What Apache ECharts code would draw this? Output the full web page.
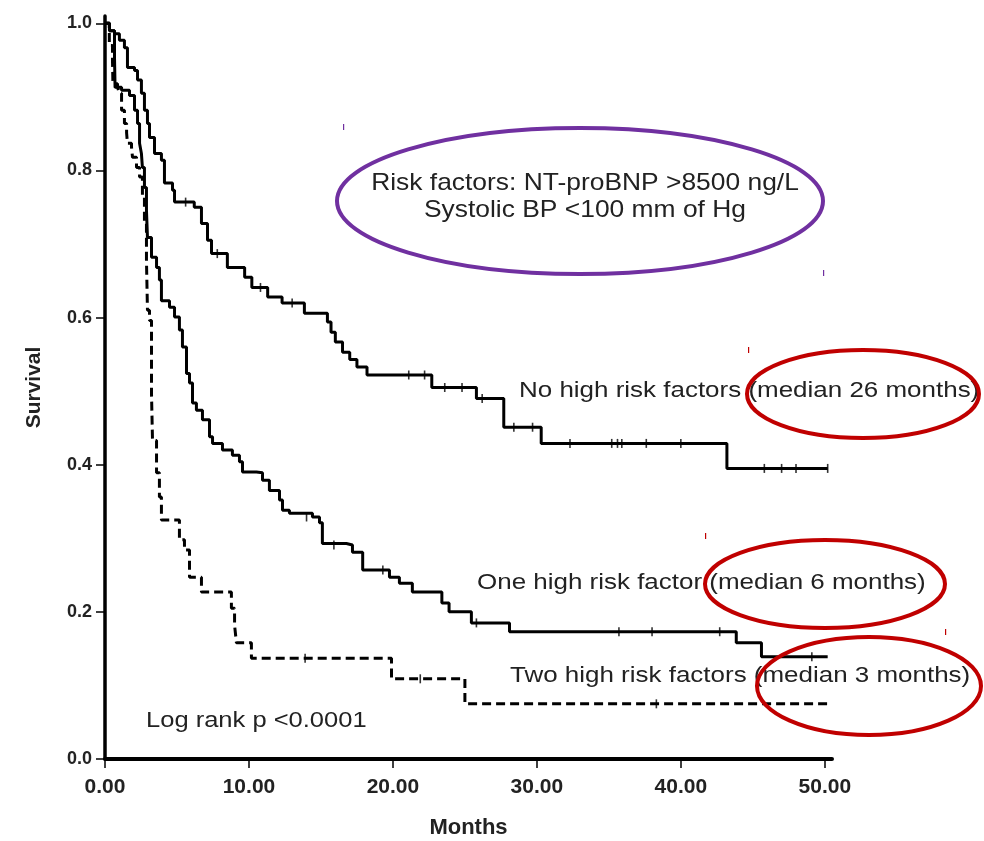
<!DOCTYPE html>
<html>
<head>
<meta charset="utf-8">
<script src="https://cdn.jsdelivr.net/npm/echarts@6/dist/echarts.min.js"></script>
<style>
  html, body { margin: 0; padding: 0; background: #fff; }
  #survival-chart { width: 984px; height: 841px; }
</style>
</head>
<body>
<div id="survival-chart"></div>
<script>
// x ticks / y ticks
var monthTicks = [0, 10, 20, 30, 40, 50]
var survivalTicks = [0, 0.2, 0.4, 0.6, 0.8, 1.0]

// Kaplan-Meier steps: [month, survival after that month]
var noRiskSteps = [
  [0, 1.0], [0.31, 0.99], [0.66, 0.986], [1.0, 0.977], [1.35, 0.967], [1.56, 0.94],
  [2.05, 0.936], [2.26, 0.923], [2.53, 0.905], [2.74, 0.882], [2.95, 0.864], [3.09, 0.845],
  [3.44, 0.823], [3.92, 0.814], [4.13, 0.783], [4.69, 0.773], [4.83, 0.757], [6.2, 0.75],
  [6.7, 0.728], [7.12, 0.705], [7.4, 0.687], [8.5, 0.668], [9.7, 0.655], [10.2, 0.641],
  [11.3, 0.628], [12.3, 0.62], [13.85, 0.606], [15.45, 0.594], [15.7, 0.58], [16.0, 0.567],
  [16.5, 0.553], [17.0, 0.543], [17.5, 0.533], [18.2, 0.522], [22.7, 0.505], [25.8, 0.49],
  [27.7, 0.451], [30.3, 0.429], [43.2, 0.395], [50.2, 0.395]
]
var oneRiskSteps = [
  [0, 1.0], [0.31, 0.99], [0.66, 0.954], [0.7, 0.913], [1.15, 0.909], [1.7, 0.902],
  [2.05, 0.882], [2.26, 0.864], [2.4, 0.837], [2.53, 0.823], [2.6, 0.804], [2.74, 0.777],
  [2.88, 0.746], [2.95, 0.709], [3.23, 0.682], [3.58, 0.668], [3.78, 0.651], [3.92, 0.623],
  [4.48, 0.614], [4.83, 0.601], [5.17, 0.583], [5.38, 0.56], [5.66, 0.524], [5.87, 0.511],
  [6.08, 0.484], [6.35, 0.474], [6.77, 0.461], [7.26, 0.438], [7.47, 0.429], [8.16, 0.42],
  [8.85, 0.413], [9.34, 0.404], [9.55, 0.39], [10.52, 0.389], [10.94, 0.379], [11.42, 0.365],
  [12.12, 0.352], [12.33, 0.338], [12.81, 0.334], [14.41, 0.329], [14.9, 0.321], [15.1, 0.293],
  [16.77, 0.291], [17.19, 0.281], [17.9, 0.257], [19.76, 0.247], [20.45, 0.239], [21.35, 0.227],
  [23.4, 0.212], [23.9, 0.2], [25.45, 0.185], [28.1, 0.173], [43.85, 0.158], [45.6, 0.139],
  [50.2, 0.139]
]
var twoRiskSteps = [
  [0, 1.0], [0.3, 0.97], [0.52, 0.95], [0.55, 0.918], [0.87, 0.913], [1.0, 0.905],
  [1.15, 0.882], [1.35, 0.864], [1.5, 0.851], [1.56, 0.837], [1.84, 0.832], [1.91, 0.818],
  [2.19, 0.804], [2.4, 0.791], [2.6, 0.764], [2.74, 0.728], [2.88, 0.678], [2.95, 0.61],
  [3.09, 0.596], [3.23, 0.497], [3.3, 0.433], [3.58, 0.389], [3.78, 0.356], [3.92, 0.325],
  [5.17, 0.298], [5.52, 0.284], [5.87, 0.247], [6.7, 0.227], [8.78, 0.205], [9.0, 0.182],
  [9.13, 0.158], [10.17, 0.137], [19.9, 0.109], [25.0, 0.075], [50.2, 0.075]
]

// censored cases (tick marks)
var noRiskCensored = [
  [5.6, 0.757], [7.8, 0.687], [10.8, 0.641], [13.0, 0.62], [21.1, 0.522], [22.2, 0.522],
  [23.6, 0.505], [24.8, 0.505], [26.2, 0.49], [28.4, 0.451], [29.7, 0.451], [32.3, 0.429],
  [35.2, 0.429], [35.6, 0.429], [35.9, 0.429], [37.6, 0.429], [40.0, 0.429],
  [45.8, 0.395], [47.0, 0.395], [48.0, 0.395], [50.2, 0.395]
]
var oneRiskCensored = [
  [14.0, 0.329], [15.9, 0.291], [19.3, 0.257], [25.8, 0.185],
  [35.7, 0.173], [38.0, 0.173], [42.7, 0.173], [49.1, 0.139]
]
var twoRiskCensored = [[13.9, 0.137], [21.9, 0.109], [38.3, 0.075]]

var riskText = ['Risk factors: NT-proBNP >8500 ng/L', 'Systolic BP <100 mm of Hg']
var curveLabels = [
  'No high risk factors (median 26 months)',
  'One high risk factor (median 6 months)',
  'Two high risk factors (median 3 months)'
]
var logRankText = 'Log rank p <0.0001'

var FONT = '"Liberation Sans", Arial, sans-serif'
var PURPLE = '#7030a0'
var RED = '#c00000'

function kmLine(name, data, dashed) {
  return {
    name: name,
    type: 'line',
    step: 'end',
    data: data,
    symbol: 'none',
    silent: true,
    lineStyle: { color: '#000', width: 3, type: dashed ? [9, 5] : 'solid' }
  }
}

function censorMarks(data) {
  return {
    type: 'scatter',
    data: data,
    symbol: 'rect',
    symbolSize: [1.6, 9],
    itemStyle: { color: '#000' },
    silent: true
  }
}

function label(text, left, cy, size, sx) {
  return {
    type: 'text',
    x: left,
    y: cy,
    scaleX: sx,
    style: { text: text, font: size + 'px ' + FONT, fill: '#222', textVerticalAlign: 'middle' }
  }
}

function ring(cx, cy, rx, ry, color) {
  return {
    type: 'ellipse',
    shape: { cx: cx, cy: cy, rx: rx, ry: ry },
    style: { fill: null, stroke: color, lineWidth: 4 },
    z: 10
  }
}

function speck(x, y, color) {
  return { type: 'rect', shape: { x: x, y: y, width: 1.2, height: 6 }, style: { fill: color } }
}

var chart = echarts.init(document.getElementById('survival-chart'))
chart.setOption({
  animation: false,
  backgroundColor: '#fff',
  grid: { left: 105, right: 152, top: 16, bottom: 82, containLabel: false, outerBoundsMode: 'none' },
  xAxis: {
    type: 'value',
    min: monthTicks[0],
    max: 50.5,
    interval: 10,
    name: 'Months',
    nameLocation: 'middle',
    nameGap: 58,
    nameTextStyle: { fontFamily: FONT, fontWeight: 'bold', fontSize: 22, color: '#222' },
    axisLine: { lineStyle: { color: '#000', width: 4 } },
    axisTick: { length: 9, lineStyle: { color: '#000', width: 1.5 } },
    axisLabel: {
      margin: 18,
      fontFamily: FONT,
      fontWeight: 'bold',
      fontSize: 21,
      color: '#222',
      formatter: function (v) { return v.toFixed(2) }
    },
    splitLine: { show: false }
  },
  yAxis: {
    type: 'value',
    min: survivalTicks[0],
    max: 1.01,
    interval: 0.2,
    name: 'Survival',
    nameLocation: 'middle',
    nameRotate: 90,
    nameGap: 60,
    nameTextStyle: { fontFamily: FONT, fontWeight: 'bold', fontSize: 21, color: '#222' },
    axisLine: { show: true, lineStyle: { color: '#000', width: 3.5 } },
    axisTick: { show: true, length: 9, lineStyle: { color: '#000', width: 1.5 } },
    axisLabel: {
      margin: 13,
      fontFamily: FONT,
      fontWeight: 'bold',
      fontSize: 18,
      color: '#222',
      formatter: function (v) { return v.toFixed(1) }
    },
    splitLine: { show: false }
  },
  series: [
    kmLine('No high risk factors', noRiskSteps, false),
    kmLine('One high risk factor', oneRiskSteps, false),
    kmLine('Two high risk factors', twoRiskSteps, true),
    censorMarks(noRiskCensored),
    censorMarks(oneRiskCensored),
    censorMarks(twoRiskCensored)
  ],
  graphic: [
    {
      type: 'text',
      x: 585,
      y: 197,
      scaleX: 1.1,
      style: {
        text: riskText.join('\n'),
        font: '24px ' + FONT,
        lineHeight: 27,
        fill: '#222',
        textAlign: 'center',
        textVerticalAlign: 'middle'
      }
    },
    ring(580, 201, 243, 73, PURPLE),
    label(curveLabels[0], 519, 391, 22, 1.18),
    label(curveLabels[1], 477, 583, 22, 1.18),
    label(curveLabels[2], 510, 676, 22, 1.18),
    label(logRankText, 146, 721, 22, 1.16),
    ring(863, 394, 116, 44, RED),
    ring(825, 584, 120, 44, RED),
    ring(869, 686, 112, 49, RED),
    speck(343, 124, PURPLE),
    speck(823, 270, PURPLE),
    speck(748, 347, RED),
    speck(705, 533, RED),
    speck(945, 629, RED)
  ]
})
</script>
</body>
</html>
